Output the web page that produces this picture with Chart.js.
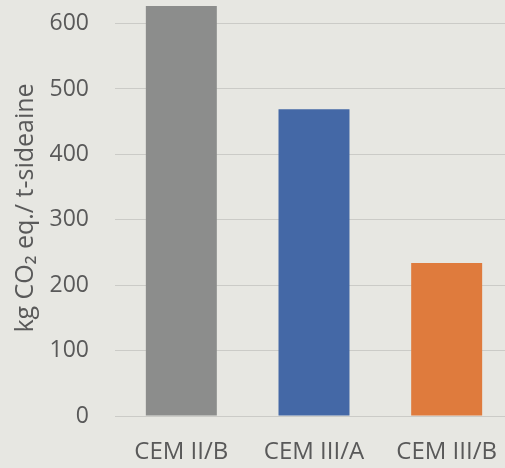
<!DOCTYPE html>
<html>
<head>
<meta charset="utf-8">
<script src="https://cdn.jsdelivr.net/npm/chart.js@4"></script>
<style>
  html, body { margin: 0; padding: 0; background: #e7e7e2; overflow: hidden; }
  #wrap { width: 505px; height: 468px; overflow: hidden; }
  canvas { display: block; }
</style>
</head>
<body>
<div id="wrap"><canvas id="grafico" width="513" height="468"></canvas></div>
<script>
// Dados do gráfico
const categorias = ['CEM II/B', 'CEM III/A', 'CEM III/B'];
const valores = [627, 469, 234];
const cores = ['#8c8d8c', '#4468a6', '#df7b3d'];
const tituloY = 'kg CO\u2082 eq./ t-sideaine';

const corTexto = '#595959';
const familia = '"Open Sans", sans-serif';

new Chart(document.getElementById('grafico').getContext('2d'), {
  type: 'bar',
  data: {
    labels: categorias,
    datasets: [
      {
        data: valores,
        backgroundColor: cores,
        borderWidth: 0,
        barPercentage: 0.535,
        categoryPercentage: 1
      }
    ]
  },
  options: {
    responsive: false,
    animation: false,
    layout: { padding: 0 },
    plugins: {
      legend: { display: false },
      tooltip: { enabled: false }
    },
    scales: {
      x: {
        grid: { display: false, drawTicks: false },
        border: { display: false },
        ticks: { color: corTexto, font: { family: familia, size: 24 }, padding: 22, maxRotation: 0 },
        afterFit: (scale) => {
          scale.height = 52;
          // sem folga extra para os rótulos nas pontas
          scale.paddingLeft = 0;
          scale.paddingRight = 0;
        }
      },
      y: {
        min: 0,
        max: 636,
        grid: { color: '#cbcbc7', lineWidth: 1, drawTicks: false },
        border: { display: false },
        ticks: { stepSize: 100, includeBounds: false, color: corTexto, font: { family: familia, size: 23 }, padding: 26 },
        title: {
          display: true,
          text: tituloY,
          color: corTexto,
          font: { family: familia, size: 25 },
          padding: { top: 11, bottom: 0 }
        },
        afterFit: (scale) => {
          scale.width = 115;
          scale.paddingTop = 0;
          scale.paddingBottom = 0;
        }
      }
    }
  }
});
</script>
</body>
</html>
